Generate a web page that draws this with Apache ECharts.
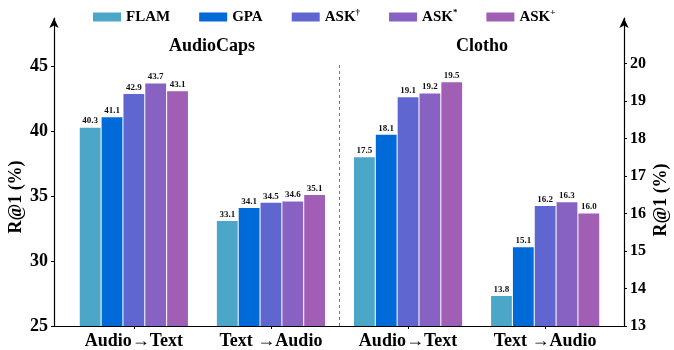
<!DOCTYPE html>
<html>
<head>
<meta charset="utf-8">
<script src="https://cdn.jsdelivr.net/npm/echarts@6/dist/echarts.min.js"></script>
<style>
  html, body { margin: 0; padding: 0; background: #fff; }
  #chart { width: 674px; height: 350px; }
</style>
</head>
<body>
<div id="chart"></div>
<script>
// Retrieval directions, two per dataset
const directions = ['Audio\u2192Text', 'Text \u2192Audio', 'Audio\u2192Text', 'Text \u2192Audio'];
const methods = ['FLAM', 'GPA', 'ASK\u2020', 'ASK*', 'ASK+'];
const methodColors = ['#4BA6C8', '#006AD8', '#6066CF', '#8762C2', '#A05EB5'];

// R@1 (%) on AudioCaps: [Audio→Text, Text→Audio] per method
const audioCapsFLAM = [40.3, 33.1];
const audioCapsGPA = [41.1, 34.1];
const audioCapsASKdagger = [42.9, 34.5];
const audioCapsASKstar = [43.7, 34.6];
const audioCapsASKplus = [43.1, 35.1];

// R@1 (%) on Clotho: [Audio→Text, Text→Audio] per method
const clothoFLAM = [17.5, 13.8];
const clothoGPA = [18.1, 15.1];
const clothoASKdagger = [19.1, 16.2];
const clothoASKstar = [19.2, 16.3];
const clothoASKplus = [19.5, 16.0];

const leftTicks = [25, 30, 35, 40, 45];
const rightTicks = [13, 14, 15, 16, 17, 18, 19, 20];

const audioCaps = [audioCapsFLAM, audioCapsGPA, audioCapsASKdagger, audioCapsASKstar, audioCapsASKplus];
const clotho = [clothoFLAM, clothoGPA, clothoASKdagger, clothoASKstar, clothoASKplus];

const FONT = '"Liberation Serif", "Times New Roman", serif';
const LEFT_MIN = 25, LEFT_MAX = 48.76;
const RIGHT_MIN = 13, RIGHT_MAX = 21.21;

const chart = echarts.init(document.getElementById('chart'), null, { renderer: 'canvas' });

// Bars live in an inner box; the outer box carries the frame lines
const innerBox = { left: 65.3, right: 60.3, top: 18, bottom: 24, outerBoundsMode: 'none' };
const outerBox = { left: 54, right: 50, top: 18, bottom: 24, outerBoundsMode: 'none' };

function barSeries(name, idx, values, before, axisIndex) {
  const data = [];
  for (let k = 0; k < before; k++) data.push('-');
  values.forEach(v => data.push(v));
  while (data.length < directions.length) data.push('-');
  return {
    name: name,
    type: 'bar',
    xAxisIndex: axisIndex,
    yAxisIndex: axisIndex,
    data: data,
    barWidth: 20.8,
    barGap: '5%',
    itemStyle: { color: methodColors[idx] },
    label: {
      show: true,
      position: 'top',
      distance: 2,
      fontFamily: FONT,
      fontWeight: 'bold',
      fontSize: 9,
      color: '#111',
      formatter: p => Number(p.value).toFixed(1)
    },
    emphasis: { disabled: true }
  };
}

const series = [];
methods.forEach((m, i) => series.push(barSeries(m, i, audioCaps[i], 0, 0)));
methods.forEach((m, i) => series.push(barSeries(m, i, clotho[i], 2, 1)));

// dashed separator between the two datasets, drawn on the frame grid
series.push({
  type: 'line',
  xAxisIndex: 2,
  yAxisIndex: 2,
  data: [],
  silent: true,
  markLine: {
    silent: true,
    symbol: ['none', 'none'],
    label: { show: false },
    lineStyle: { color: '#777', type: [3, 3], width: 1 },
    data: [[{ coord: [1.5, LEFT_MIN] }, { coord: [1.5, 45.2] }]]
  }
});

const axisLineStyle = { color: '#000', width: 1.2 };
const arrowLine = { show: true, onZero: false, lineStyle: axisLineStyle, symbol: ['none', 'arrow'], symbolSize: [7, 10] };

const option = {
  animation: false,
  backgroundColor: '#fff',
  title: [
    { text: 'AudioCaps', left: 207, top: 32, textAlign: 'center',
      textStyle: { fontFamily: FONT, fontWeight: 'bold', fontSize: 18, color: '#000' } },
    { text: 'Clotho', left: 477, top: 32, textAlign: 'center',
      textStyle: { fontFamily: FONT, fontWeight: 'bold', fontSize: 18, color: '#000' } }
  ],
  legend: {
    data: methods,
    top: 3,
    left: 88,
    itemWidth: 28,
    itemHeight: 9,
    itemGap: 29,
    icon: 'rect',
    formatter: name => {
      if (name.startsWith('ASK')) return '{b|ASK}{s|' + name.slice(3) + '}';
      return '{b|' + name + '}';
    },
    textStyle: {
      rich: {
        b: { fontFamily: FONT, fontWeight: 'bold', fontSize: 15, color: '#000' },
        s: { fontFamily: FONT, fontWeight: 'bold', fontSize: 9, color: '#000', padding: [0, 0, 9, 0] }
      }
    }
  },
  grid: [Object.assign({}, innerBox), Object.assign({}, innerBox), Object.assign({}, outerBox)],
  xAxis: [
    {
      type: 'category', gridIndex: 0, data: directions, boundaryGap: true,
      axisLine: { show: false, onZero: false },
      axisTick: { show: true, alignWithLabel: true, length: 3, lineStyle: { color: '#000' } },
      axisLabel: { fontFamily: FONT, fontWeight: 'bold', fontSize: 18, color: '#000', margin: 6 },
      splitLine: { show: false }
    },
    {
      type: 'category', gridIndex: 1, data: directions, boundaryGap: true, show: false
    },
    {
      type: 'value', gridIndex: 2, min: -0.582, max: 3.58,
      axisLine: { show: true, onZero: false, lineStyle: axisLineStyle },
      axisTick: { show: false },
      axisLabel: { show: false },
      splitLine: { show: false }
    }
  ],
  yAxis: [
    {
      type: 'value', gridIndex: 0, position: 'left', offset: 11.3, min: LEFT_MIN, max: LEFT_MAX,
      splitLine: { show: false },
      axisLine: arrowLine,
      axisTick: { show: true, length: 3, customValues: leftTicks, lineStyle: { color: '#000' } },
      axisLabel: {
        customValues: leftTicks,
        fontFamily: FONT, fontWeight: 'bold', fontSize: 18, color: '#000', margin: 6
      },
      name: 'R@1 (%)', nameLocation: 'middle', nameRotate: 90, nameGap: 29, nameMoveOverlap: false,
      nameTextStyle: { fontFamily: FONT, fontWeight: 'bold', fontSize: 18, color: '#000', padding: [0, 50, 0, 0] }
    },
    {
      type: 'value', gridIndex: 1, position: 'right', offset: 10.3, min: RIGHT_MIN, max: RIGHT_MAX,
      splitLine: { show: false },
      axisLine: arrowLine,
      axisTick: { show: true, length: 3, customValues: rightTicks, lineStyle: { color: '#000' } },
      axisLabel: {
        customValues: rightTicks,
        fontFamily: FONT, fontWeight: 'bold', fontSize: 16, color: '#000', margin: 6
      },
      name: 'R@1 (%)', nameLocation: 'middle', nameRotate: 90, nameGap: 28, nameMoveOverlap: false,
      nameTextStyle: { fontFamily: FONT, fontWeight: 'bold', fontSize: 18, color: '#000', padding: [0, 56, 0, 0] }
    },
    {
      type: 'value', gridIndex: 2, min: LEFT_MIN, max: LEFT_MAX, show: false
    }
  ],
  series: series
};

chart.setOption(option);
</script>
</body>
</html>
